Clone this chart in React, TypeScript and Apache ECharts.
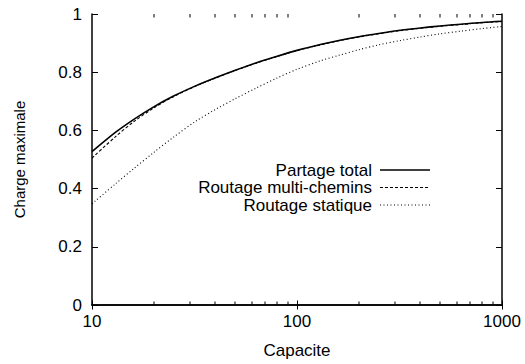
import React, { useEffect, useRef } from "react";
import * as echarts from "echarts";

// Capacity sample points (log scale)
const capacities = [10, 13, 16, 20, 25, 32, 40, 50, 63, 80, 100, 130, 160, 200, 250, 320, 400, 500, 630, 800, 1000];

// Maximum load for each routing strategy
const partageTotal = [
  0.527, 0.593, 0.638, 0.681, 0.718, 0.753, 0.781, 0.807, 0.832, 0.855, 0.875,
  0.895, 0.909, 0.922, 0.933, 0.944, 0.952, 0.959, 0.965, 0.971, 0.975,
];
const routageMulti = [
  0.505, 0.578, 0.63, 0.677, 0.716, 0.752, 0.78, 0.806, 0.831, 0.854, 0.874,
  0.894, 0.908, 0.921, 0.932, 0.943, 0.951, 0.958, 0.964, 0.97, 0.974,
];
const routageStatique = [
  0.348, 0.416, 0.469, 0.524, 0.577, 0.631, 0.672, 0.709, 0.745, 0.78, 0.81,
  0.839, 0.858, 0.877, 0.894, 0.909, 0.921, 0.932, 0.941, 0.95, 0.957,
];

const seriesNames = ["Partage total", "Routage multi-chemins", "Routage statique"];

// Tick labels on the axes
const xTickLabels = ["10", "100", "1000"];

// Minor ticks of the logarithmic x axis (drawn on the bottom and top borders)
const minorTicks = [20, 30, 40, 50, 60, 70, 80, 90, 200, 300, 400, 500, 600, 700, 800, 900];

const FONT = "Liberation Sans";
const FS = 17;

export default function App() {
  const ref = useRef<HTMLDivElement>(null);

  useEffect(() => {
    if (!ref.current) return;
    document.body.style.margin = "0";
    const chart = echarts.init(ref.current, null, { renderer: "svg" });

    const pairs = (ys: number[]) => capacities.map((c, i) => [c, ys[i]]);

    const lineStyles = [
      { width: 1.6, type: "solid" as any },
      { width: 1.1, type: [3, 2] as any },
      { width: 1.1, type: [1, 2.5] as any },
    ];

    const legendRows = [170, 187.5, 205];

    const logLabel = (v: number) => {
      const s = String(Math.round(v));
      return xTickLabels.includes(s) ? s : "";
    };

    chart.setOption({
      animation: false,
      backgroundColor: "#fff",
      textStyle: { fontFamily: FONT },
      grid: { left: 92, right: 23, top: 14, bottom: 55, containLabel: false },
      xAxis: [
        {
          type: "log",
          logBase: 10,
          min: 10,
          max: 1000,
          name: "Capacite",
          nameLocation: "middle",
          nameGap: 37,
          nameTextStyle: { color: "#000", fontSize: FS, fontFamily: FONT },
          axisLine: { lineStyle: { color: "#000", width: 1.5 } },
          axisTick: { inside: true, length: 4.5, lineStyle: { color: "#000", width: 1 } },
          axisLabel: { color: "#000", fontSize: FS, fontFamily: FONT, margin: 8, formatter: logLabel },
          splitLine: { show: false },
        },
        {
          type: "log",
          logBase: 10,
          min: 10,
          max: 1000,
          position: "top",
          axisLine: { lineStyle: { color: "#000", width: 1.5 } },
          axisTick: { inside: true, length: 4.5, lineStyle: { color: "#000", width: 1 } },
          axisLabel: { show: false },
          splitLine: { show: false },
        },
      ],
      yAxis: [
        {
          type: "value",
          min: 0,
          max: 1,
          interval: 0.2,
          name: "Charge maximale",
          nameLocation: "middle",
          nameGap: 65,
          nameTextStyle: { color: "#000", fontSize: 15, fontFamily: FONT },
          axisLine: { show: true, lineStyle: { color: "#000", width: 1.5 } },
          axisTick: { show: true, inside: true, length: 6, lineStyle: { color: "#000", width: 1 } },
          axisLabel: { color: "#000", fontSize: FS, fontFamily: FONT, margin: 10 },
          splitLine: { show: false },
        },
        {
          type: "value",
          min: 0,
          max: 1,
          interval: 0.2,
          position: "right",
          axisLine: { show: true, lineStyle: { color: "#000", width: 1.5 } },
          axisTick: { show: true, inside: true, length: 6, lineStyle: { color: "#000", width: 1 } },
          axisLabel: { show: false },
          splitLine: { show: false },
        },
      ],
      series: [
        {
          type: "custom",
          silent: true,
          clip: false,
          z: 5,
          xAxisIndex: 0,
          yAxisIndex: 0,
          data: minorTicks.map((v) => [v, 0.5]),
          encode: { x: 0, y: 1 },
          renderItem: (params: any, api: any) => {
            const x = Math.round(api.coord([api.value(0), 0.5])[0]) - 0.5;
            const cs = params.coordSys;
            const bottom = cs.y + cs.height;
            return {
              type: "group",
              children: [
                { type: "rect", shape: { x, y: bottom - 3.5, width: 1, height: 3.5 }, style: { fill: "#000" } },
                { type: "rect", shape: { x, y: cs.y, width: 1, height: 3.5 }, style: { fill: "#000" } },
              ],
            };
          },
        },
        {
          name: seriesNames[2],
          type: "line",
          data: pairs(routageStatique),
          smooth: 0.3,
          symbol: "none",
          lineStyle: { color: "#000", ...lineStyles[2] },
        },
        {
          name: seriesNames[1],
          type: "line",
          data: pairs(routageMulti),
          smooth: 0.3,
          symbol: "none",
          lineStyle: { color: "#000", ...lineStyles[1] },
        },
        {
          name: seriesNames[0],
          type: "line",
          data: pairs(partageTotal),
          smooth: 0.3,
          symbol: "none",
          lineStyle: { color: "#000", ...lineStyles[0] },
        },
      ],
      graphic: seriesNames.flatMap((name, i) => [
        {
          type: "text",
          x: 372,
          y: legendRows[i],
          style: {
            text: name,
            fill: "#000",
            font: `${FS}px '${FONT}'`,
            textAlign: "right",
            textVerticalAlign: "middle",
          },
        },
        {
          type: "line",
          shape: { x1: 380, y1: legendRows[i], x2: 430, y2: legendRows[i] },
          style: {
            stroke: "#000",
            lineWidth: lineStyles[i].width,
            lineDash: i === 0 ? null : lineStyles[i].type,
          },
        },
      ]),
    });

    return () => chart.dispose();
  }, []);

  return <div ref={ref} style={{ width: 525, height: 364 }} />;
}
